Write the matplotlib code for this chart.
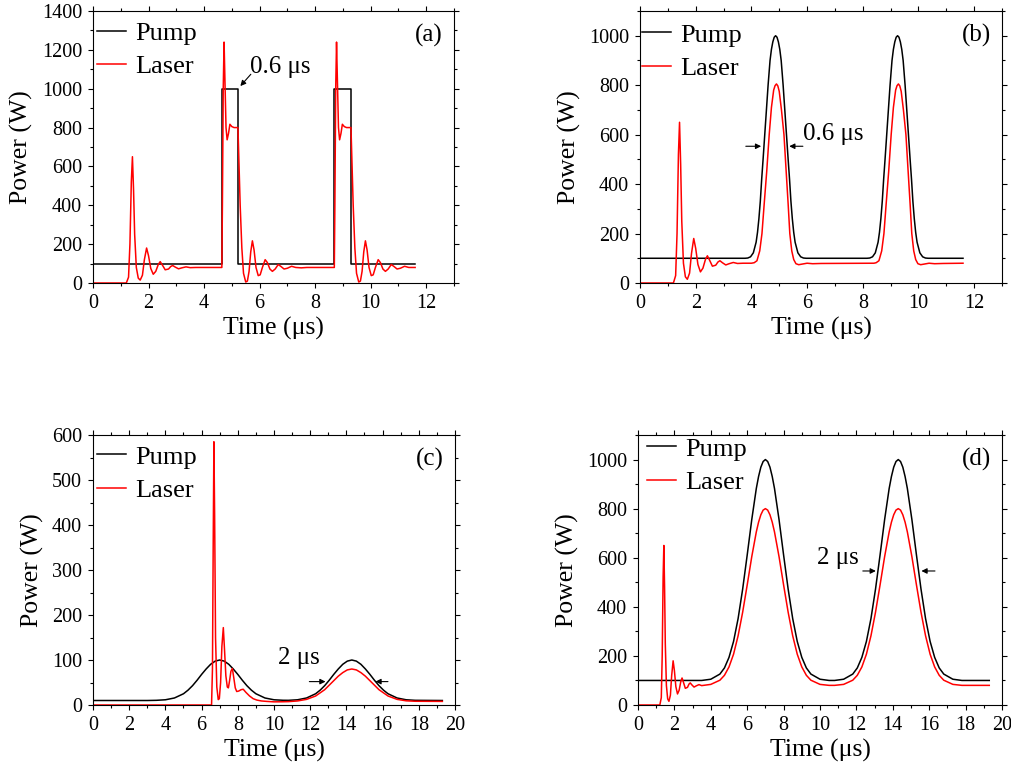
import matplotlib
matplotlib.use("Agg")
import matplotlib.pyplot as plt
from matplotlib.ticker import MultipleLocator

plt.rcParams['font.family'] = ['Liberation Serif', 'DejaVu Serif']

# ---------------- panel (a): square pump pulses ----------------
t_pump_a = [0, 4.64, 4.64, 5.22, 5.22, 8.69, 8.69, 9.29, 9.29, 11.6]
p_pump_a = [100, 100, 1000, 1000, 100, 100, 1000, 1000, 100, 100]

t_laser_a = [0, 1.2, 1.28, 1.33, 1.38, 1.42, 1.46, 1.5, 1.56, 1.63, 1.7, 1.78, 1.85, 1.93,
             2.0, 2.08, 2.17, 2.26, 2.35, 2.42, 2.5, 2.6, 2.72, 2.8, 2.87, 2.96, 3.08, 3.2,
             3.35, 3.5, 3.7, 4.0, 4.64,
             4.66, 4.69, 4.72, 4.75, 4.79, 4.83, 4.88, 4.93, 5.0, 5.08, 5.22,
             5.25, 5.3, 5.36, 5.42, 5.5, 5.56, 5.62, 5.68, 5.74, 5.8, 5.87, 5.95, 6.02,
             6.1, 6.2, 6.28, 6.37, 6.46, 6.56, 6.67, 6.76, 6.88, 7.0, 7.15, 7.3, 7.5,
             7.7, 8.0, 8.69,
             8.71, 8.74, 8.77, 8.8, 8.84, 8.88, 8.93, 8.98, 9.05, 9.13, 9.29,
             9.32, 9.37, 9.43, 9.49, 9.57, 9.63, 9.69, 9.75, 9.81, 9.87, 9.94, 10.02, 10.09,
             10.17, 10.27, 10.35, 10.44, 10.53, 10.63, 10.74, 10.83, 10.95, 11.07, 11.22,
             11.37, 11.6]
p_laser_a = [0, 0, 30, 200, 520, 650, 480, 250, 80, 25, 15, 40, 120, 180,
             140, 75, 45, 60, 95, 110, 92, 68, 72, 85, 90, 82, 73, 78,
             83, 79, 80, 80, 80,
             400, 1000, 1240, 1050, 800, 737, 770, 817, 805, 800, 800,
             650, 400, 180, 50, 5, 10, 60, 160, 217, 170, 80, 38, 42,
             80, 120, 105, 72, 60, 72, 95, 86, 72, 76, 86, 80, 78,
             80, 80, 80,
             400, 1000, 1240, 1050, 800, 737, 770, 817, 805, 800, 800,
             650, 400, 180, 50, 5, 10, 60, 160, 217, 170, 80, 38, 42,
             80, 120, 105, 72, 60, 72, 95, 86, 72, 76, 86,
             80, 80]

# ---------------- panel (b): 0.6 us pulses ----------------
t_pump_b = [0, 3.77, 3.87, 3.97, 4.07, 4.17, 4.22, 4.27, 4.32, 4.37, 4.42, 4.48, 4.54,
            4.6, 4.67, 4.72, 4.77, 4.82, 4.87, 4.92, 4.97, 5.02, 5.07, 5.14, 5.2, 5.26,
            5.32, 5.37, 5.42, 5.47, 5.52, 5.57, 5.67, 5.77, 5.87, 5.97,
            8.15, 8.25, 8.35, 8.45, 8.55, 8.6, 8.65, 8.7, 8.75, 8.8, 8.86, 8.92,
            8.98, 9.05, 9.1, 9.15, 9.2, 9.25, 9.3, 9.35, 9.4, 9.45, 9.52, 9.58, 9.64,
            9.7, 9.75, 9.8, 9.85, 9.9, 9.95, 10.05, 10.15, 10.25, 10.35, 11.6]
p_pump_b = [100, 100, 101, 106, 122, 165, 205, 260, 330, 420, 500, 600, 700,
            800, 900, 945, 975, 994, 1000, 994, 975, 945, 900, 800, 700, 600,
            500, 420, 330, 260, 205, 165, 122, 106, 101, 100,
            100, 101, 106, 122, 165, 205, 260, 330, 420, 500, 600, 700,
            800, 900, 945, 975, 994, 1000, 994, 975, 945, 900, 800, 700, 600,
            500, 420, 330, 260, 205, 165, 122, 106, 101, 100, 100]

t_laser_b = [0, 1.2, 1.28, 1.33, 1.38, 1.42, 1.46, 1.5, 1.56, 1.63, 1.7, 1.78, 1.85, 1.93,
             2.0, 2.08, 2.17, 2.26, 2.35, 2.42, 2.5, 2.6, 2.72, 2.8, 2.87, 2.96, 3.08, 3.2,
             3.35, 3.5, 3.7, 4.0,
             4.1, 4.2, 4.3, 4.38, 4.46, 4.55, 4.64, 4.72, 4.8, 4.85, 4.9, 4.95, 5.0, 5.08,
             5.17, 5.25, 5.32, 5.38, 5.45, 5.52, 5.6, 5.7, 5.85, 6.0, 6.2, 6.5, 8.4,
             8.48, 8.58, 8.68, 8.76, 8.84, 8.93, 9.02, 9.1, 9.18, 9.23, 9.28, 9.33, 9.38,
             9.46, 9.55, 9.63, 9.7, 9.76, 9.83, 9.9, 9.98, 10.08, 10.23, 10.38, 10.58,
             10.88, 11.6]
p_laser_b = [0, 0, 30, 200, 520, 650, 480, 250, 80, 25, 15, 40, 120, 180,
             140, 75, 45, 60, 95, 110, 92, 68, 72, 85, 90, 82, 73, 78,
             83, 79, 80, 80,
             82, 90, 130, 200, 320, 450, 600, 710, 780, 798, 805, 797, 775, 700,
             600, 450, 320, 200, 130, 95, 78, 74, 77, 80, 78, 79, 80,
             82, 90, 130, 200, 320, 450, 600, 710, 780, 798, 805, 797, 775,
             700, 600, 450, 320, 200, 130, 95, 78, 74, 77, 80, 78,
             79, 80]

# ---------------- panel (c): 2 us pulses, low power ----------------
t_pump_c = [0, 3.0, 3.5, 4.0, 4.5, 5.0, 5.25, 5.5, 5.75, 6.0, 6.25, 6.5, 6.75, 7.0,
            7.25, 7.5, 7.75, 8.0, 8.25, 8.5, 8.75, 9.0, 9.5, 10.0, 10.5,
            10.8, 11.3, 11.8, 12.3, 12.55, 12.8, 13.05, 13.3, 13.55, 13.8, 14.05, 14.3,
            14.55, 14.8, 15.05, 15.3, 15.55, 15.8, 16.05, 16.3, 16.8, 17.3, 17.8, 19.3]
p_pump_c = [10, 10, 10.4, 11.6, 15.6, 25, 33, 43, 55, 68, 80, 90.5, 97.5, 100,
            97.5, 90.5, 80, 68, 55, 43, 33, 25, 15.6, 11.6, 10.5,
            10.4, 11.6, 15.6, 25, 33, 43, 55, 68, 80, 90.5, 97.5, 100,
            97.5, 90.5, 80, 68, 55, 43, 33, 25, 15.6, 11.6, 10.4, 10]

t_laser_c = [0, 6.55, 6.6, 6.64, 6.68, 6.72, 6.77, 6.84, 6.92, 6.98, 7.05, 7.12, 7.2,
             7.27, 7.34, 7.42, 7.48, 7.55, 7.62, 7.7, 7.78, 7.86, 7.94, 8.05, 8.18, 8.3,
             8.45, 8.65, 8.85, 9.05, 9.3, 9.6, 10.0, 10.5, 10.8,
             11.3, 11.8, 12.3, 12.55, 12.8, 13.05, 13.3, 13.55, 13.8, 14.05, 14.3,
             14.55, 14.8, 15.05, 15.3, 15.55, 15.8, 16.05, 16.3, 16.8, 17.3, 17.8, 19.3]
p_laser_c = [0, 0, 80, 350, 585, 420, 150, 40, 12, 14, 50, 130, 172,
             120, 65, 40, 38, 55, 75, 81, 60, 38, 30, 31, 34, 35,
             28, 20, 14, 11, 9, 8, 7, 7.2, 7.5,
             9, 12.5, 20, 27, 34, 44, 54, 64, 72, 78, 80,
             78, 72, 64, 54, 44, 34, 27, 20, 12.5, 9.3, 8.3, 8]

# ---------------- panel (d): 2 us pulses, high power ----------------
t_pump_d = [0, 3.5, 4.0, 4.5, 4.75, 5.0, 5.25, 5.5, 5.75, 6.0, 6.25, 6.5, 6.625, 6.75,
            6.875, 7.0, 7.125, 7.25, 7.375, 7.5, 7.75, 8.0, 8.25, 8.5, 8.75, 9.0, 9.25,
            9.5, 10.0, 10.5,
            10.8, 11.3, 11.8, 12.05, 12.3, 12.55, 12.8, 13.05, 13.3, 13.55, 13.8, 13.925,
            14.05, 14.175, 14.3, 14.425, 14.55, 14.675, 14.8, 15.05, 15.3, 15.55, 15.8,
            16.05, 16.3, 16.55, 16.8, 17.3, 17.8, 19.3]
p_pump_d = [100, 100, 105, 126, 151, 194, 259, 352, 472, 611, 755, 882, 931, 969,
            992, 1000, 992, 969, 931, 882, 755, 611, 472, 352, 259, 194, 151,
            126, 105, 100,
            100, 105, 126, 151, 194, 259, 352, 472, 611, 755, 882, 931,
            969, 992, 1000, 992, 969, 931, 882, 755, 611, 472, 352,
            259, 194, 151, 126, 105, 100, 100]

t_laser_d = [0, 1.2, 1.28, 1.33, 1.38, 1.42, 1.46, 1.5, 1.56, 1.63, 1.7, 1.78, 1.85, 1.93,
             2.0, 2.08, 2.17, 2.26, 2.35, 2.42, 2.5, 2.6, 2.72, 2.8, 2.87, 2.96, 3.08, 3.2,
             3.35, 3.5, 4.0, 4.5, 4.75, 5.0, 5.25, 5.5, 5.75, 6.0, 6.25, 6.5, 6.625, 6.75,
             6.875, 7.0, 7.125, 7.25, 7.375, 7.5, 7.75, 8.0, 8.25, 8.5, 8.75, 9.0, 9.25,
             9.5, 10.0, 10.5,
             10.8, 11.3, 11.8, 12.05, 12.3, 12.55, 12.8, 13.05, 13.3, 13.55, 13.8, 13.925,
             14.05, 14.175, 14.3, 14.425, 14.55, 14.675, 14.8, 15.05, 15.3, 15.55, 15.8,
             16.05, 16.3, 16.55, 16.8, 17.3, 17.8, 19.3]
p_laser_d = [0, 0, 30, 200, 520, 650, 480, 250, 80, 25, 15, 40, 120, 180,
             140, 75, 45, 60, 95, 110, 92, 68, 72, 85, 90, 82, 73, 78,
             83, 79, 84, 101, 121, 155, 207, 282, 378, 489, 604, 705, 745, 775,
             794, 800, 794, 775, 745, 705, 604, 489, 378, 282, 207, 155, 121,
             101, 84, 80,
             80, 84, 101, 121, 155, 207, 282, 378, 489, 604, 705, 745,
             775, 794, 800, 794, 775, 745, 705, 604, 489, 378, 282,
             207, 155, 121, 101, 84, 80, 80]

fig = plt.figure(figsize=(10.12, 7.7), dpi=100)

W, H = 1012, 770


def make_ax(left, right, top, bottom):
    return fig.add_axes([left / W, 1 - bottom / H, (right - left) / W, (bottom - top) / H])


ax_a = make_ax(93, 454, 11, 283)
ax_b = make_ax(640, 1002, 11, 283)
ax_c = make_ax(93, 455, 435, 705)
ax_d = make_ax(638, 1002, 435, 705)

panels = [
    (ax_a, t_pump_a, p_pump_a, t_laser_a, p_laser_a, 13, 1400, 200, 100, '(a)', (0.007, 0.967)),
    (ax_b, t_pump_b, p_pump_b, t_laser_b, p_laser_b, 13, 1100, 200, 100, '(b)', (0.003, 0.96)),
    (ax_c, t_pump_c, p_pump_c, t_laser_c, p_laser_c, 20, 600, 100, 50, '(c)', (0.007, 0.967)),
    (ax_d, t_pump_d, p_pump_d, t_laser_d, p_laser_d, 20, 1100, 200, 100, '(d)', (0.02, 0.997)),
]

for ax, tp, pp, tl, pl, xmax, ymax, ymaj, ymin, tag, leg_at in panels:
    ax.plot(tp, pp, color='black', lw=1.1, label='Pump')
    ax.plot(tl, pl, color='red', lw=1.1, label='Laser')
    ax.set_xlim(0, xmax)
    ax.set_ylim(0, ymax)
    ax.xaxis.set_major_locator(MultipleLocator(2))
    ax.xaxis.set_minor_locator(MultipleLocator(1))
    ax.yaxis.set_major_locator(MultipleLocator(ymaj))
    ax.yaxis.set_minor_locator(MultipleLocator(ymin))
    ax.tick_params(which='both', direction='out', top=True, right=True, labelsize=14.5, pad=4.5)
    ax.tick_params(which='major', length=3.4, width=0.8)
    ax.tick_params(which='minor', length=2, width=0.8)
    for sp in ax.spines.values():
        sp.set_linewidth(0.8)
    ax.set_xlabel('Time (μs)', fontsize=18.5, labelpad=3)
    ax.set_ylabel('Power (W)', fontsize=18.5, labelpad=6)
    ax.legend(loc='upper left', bbox_to_anchor=leg_at, frameon=False, fontsize=19,
              handlelength=1.1, handletextpad=0.35, labelspacing=0.38,
              borderaxespad=0, borderpad=0.05)
    ax.text(0.93, 0.91, tag, transform=ax.transAxes, fontsize=18, ha='center', va='center')

arr = dict(arrowstyle='-|>', color='black', lw=0.8, mutation_scale=8)

# (a) width label
ax_a.annotate('', xy=(5.24, 1003), xytext=(5.75, 1085), arrowprops=arr)
ax_a.text(5.67, 1110, '0.6 μs', fontsize=18, ha='left', va='center')

# (b) width arrows
ax_b.annotate('', xy=(4.45, 553), xytext=(3.7, 553), arrowprops=arr)
ax_b.annotate('', xy=(5.26, 553), xytext=(5.95, 553), arrowprops=arr)
ax_b.text(5.86, 603, '0.6 μs', fontsize=18, ha='left', va='center')

# (c) width arrows
ax_c.annotate('', xy=(13.0, 52), xytext=(11.8, 52), arrowprops=arr)
ax_c.annotate('', xy=(15.45, 52), xytext=(16.45, 52), arrowprops=arr)
ax_c.text(10.2, 104, '2 μs', fontsize=18, ha='left', va='center')

# (d) width arrows
ax_d.annotate('', xy=(13.22, 546), xytext=(12.2, 546), arrowprops=arr)
ax_d.annotate('', xy=(15.42, 546), xytext=(16.47, 546), arrowprops=arr)
ax_d.text(9.85, 598, '2 μs', fontsize=18, ha='left', va='center')

plt.savefig("out.png", dpi=100)
